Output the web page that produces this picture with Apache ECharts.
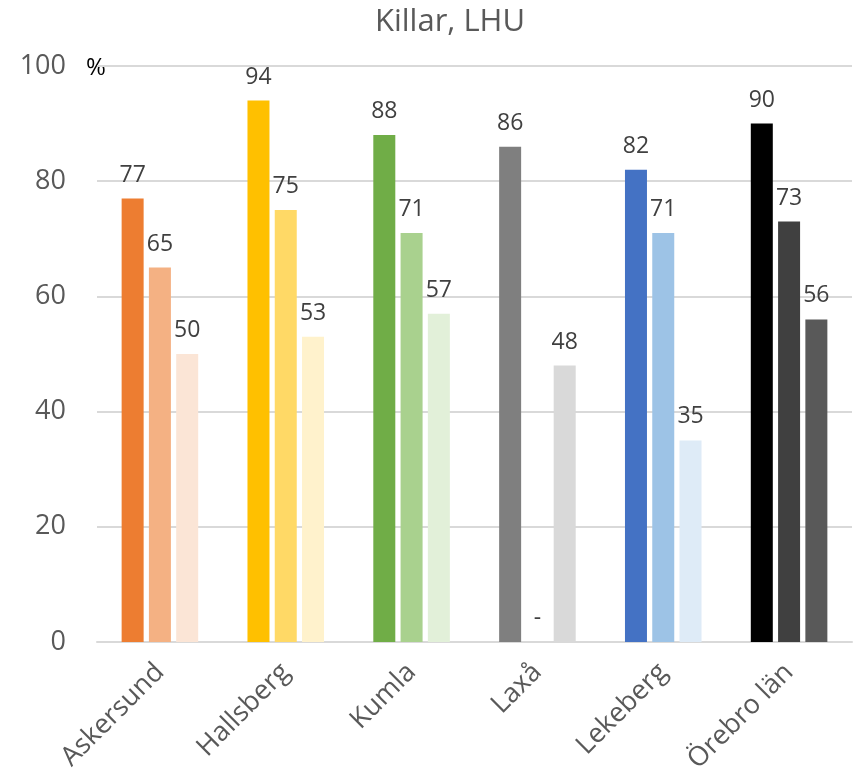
<!DOCTYPE html>
<html>
<head>
<meta charset="utf-8">
<script src="https://cdn.jsdelivr.net/npm/echarts@6/dist/echarts.min.js"></script>
<style>
  html, body { margin: 0; padding: 0; background: #fff; }
  #main { width: 856px; height: 780px; }
</style>
</head>
<body>
<div id="main"></div>
<script>
var chart = echarts.init(document.getElementById('main'), null, { renderer: 'canvas' });

var kommuner = ['Askersund', 'Hallsberg', 'Kumla', 'Laxå', 'Lekeberg', 'Örebro län'];

// tre staplar per kommun, null = uppgift saknas
var stapel1 = [77, 94, 88, 86, 82, 90];
var stapel2 = [65, 75, 71, null, 71, 73];
var stapel3 = [50, 53, 57, 48, 35, 56];

var yTicks = [0, 20, 40, 60, 80, 100];

// färger per kommun (mörk, mellan, ljus)
var farger = [
    ['#ED7D31', '#F4B183', '#FBE5D6'],
    ['#FFC000', '#FFD966', '#FFF2CC'],
    ['#70AD47', '#A9D18E', '#E2F0D9'],
    ['#7F7F7F', '#BFBFBF', '#D9D9D9'],
    ['#4472C4', '#9DC3E6', '#DEEBF7'],
    ['#000000', '#404040', '#595959']
];

var font = '"Open Sans", "Noto Sans", sans-serif';

function byggData(values, idx) {
    return values.map(function (v, i) {
        if (v === null) {
            return { value: 0, label: { formatter: '-' }, itemStyle: { color: farger[i][idx] } };
        }
        return { value: v, itemStyle: { color: farger[i][idx] } };
    });
}

function serie(values, idx) {
    return {
        type: 'bar',
        barWidth: 22,
        barGap: '24%',
        label: {
            show: true,
            position: 'top',
            distance: 12,
            color: '#404040',
            fontSize: 23,
            fontFamily: font
        },
        data: byggData(values, idx)
    };
}

chart.setOption({
    animation: false,
    title: {
        text: 'Killar, LHU',
        left: 445,
        top: 2,
        textAlign: 'center',
        textStyle: {
            color: '#595959',
            fontSize: 31,
            fontWeight: 'normal',
            fontFamily: font
        }
    },
    grid: {
        left: 97,
        right: 4,
        top: 66,
        bottom: 138
    },
    xAxis: {
        type: 'category',
        data: kommuner,
        axisLine: { lineStyle: { color: '#D9D9D9', width: 2 } },
        axisTick: { show: false },
        axisLabel: {
            rotate: 45,
            margin: 26,
            color: '#595959',
            fontSize: 27,
            fontFamily: font,
            interval: 0
        }
    },
    yAxis: {
        type: 'value',
        min: yTicks[0],
        max: yTicks[yTicks.length - 1],
        interval: 20,
        axisLine: { show: false },
        axisTick: { show: false },
        splitLine: { lineStyle: { color: '#D9D9D9', width: 2 } },
        axisLabel: {
            margin: 31,
            color: '#595959',
            fontSize: 27,
            fontFamily: font
        }
    },
    graphic: [{
        type: 'text',
        left: 86,
        top: 56,
        style: {
            text: '%',
            fill: '#000000',
            fontSize: 24,
            fontFamily: font
        }
    }],
    series: [
        serie(stapel1, 0),
        serie(stapel2, 1),
        serie(stapel3, 2)
    ]
});
</script>
</body>
</html>
